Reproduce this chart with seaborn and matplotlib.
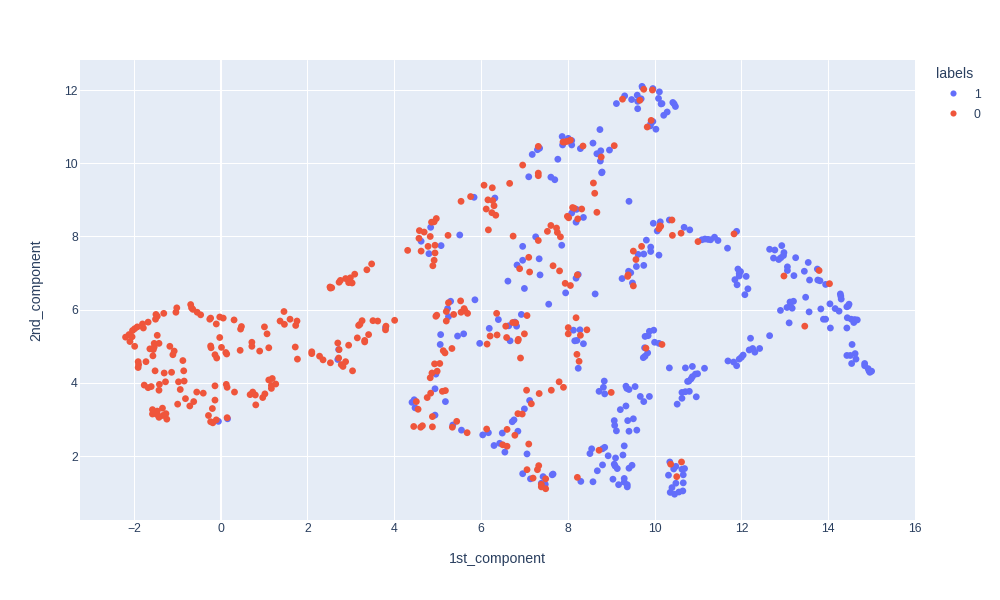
import matplotlib
matplotlib.use("Agg")
import matplotlib.pyplot as plt
import pandas as pd
import seaborn as sns

# label 1
x_one = [-0.05, 0.16, 2.72, 2.70, 3.80,
         7.10, 7.61, 7.70, 8.78, 5.84, 6.32, 9.41, 8.09, 8.20, 8.36, 8.19, 4.84, 4.62, 5.08, 4.80,
         5.51, 7.26, 6.96, 7.86, 6.96, 7.34, 6.83, 7.36, 6.62, 7.00, 8.24, 8.19, 7.95, 8.63, 7.56,
         9.97, 10.13, 10.06, 10.34, 10.68, 10.81, 9.81, 9.91, 9.91, 9.62, 9.75, 10.10, 9.58, 9.75,
         9.40, 9.45, 9.25, 9.49,
         5.30, 5.86, 5.23, 5.25, 5.07, 5.46, 5.60, 5.06, 5.97, 6.19, 6.40, 6.64, 6.67, 6.82, 6.78, 6.93,
         8.13, 8.28, 8.16, 8.21, 8.36, 9.88, 9.98, 9.85, 9.78, 10.00, 10.10, 9.77, 9.84, 9.78, 9.74,
         4.96, 4.94, 5.18, 4.46, 4.41, 4.48, 4.94, 5.35, 5.55, 6.04, 6.17, 6.49, 6.85, 6.30, 6.43, 6.55,
         7.06, 7.12, 7.00, 6.76, 6.72, 6.96, 7.14, 7.43, 7.66, 7.64, 7.39, 7.48, 8.30, 8.58,
         8.24, 8.84, 8.82, 8.72, 8.85, 9.34, 9.36, 9.41, 9.55, 9.67, 9.75, 9.88, 9.34, 9.21, 9.51, 9.38,
         9.07, 9.08, 9.12, 9.41, 9.59, 9.30, 8.85, 8.80, 8.55, 8.51, 8.93, 9.10, 9.27, 9.07, 9.09, 9.14,
         8.80, 8.68, 9.41, 9.48, 9.04, 9.30, 9.30, 9.17, 9.37, 9.37,
         10.34, 10.71, 10.87, 11.15, 10.99, 10.94, 10.87, 10.84, 10.79, 10.76, 10.80, 10.71, 10.63, 10.96,
         10.63, 10.52, 10.35, 10.49, 10.44, 10.63, 10.69, 10.66, 10.32, 10.49, 10.66, 10.40, 10.36, 10.46,
         10.56, 10.65,
         9.71, 9.72, 9.96, 10.11, 9.31, 9.60, 9.47, 9.12, 9.69, 9.61, 10.09, 10.17, 10.15, 10.42, 10.45,
         10.48, 10.29, 10.21, 9.61, 9.96, 9.91, 9.90, 10.03, 8.74, 7.87, 8.01, 8.09, 7.88, 8.09, 8.58,
         8.29, 8.76, 8.67, 8.96, 8.75, 8.79, 7.35, 7.30, 7.18, 7.77,
         11.09, 11.16, 11.23, 11.29, 11.38, 11.46, 11.68, 11.89, 11.92, 11.98, 11.95, 11.95, 12.11, 11.85,
         11.90, 12.15, 12.08, 12.65, 12.77, 12.93, 12.98, 12.97, 12.91, 12.86, 12.74, 13.25, 13.54, 13.06,
         13.06, 13.45, 13.75, 13.21, 13.57, 13.76, 13.81, 13.94, 14.28, 14.29, 14.30, 14.48, 14.46, 14.43,
         14.04, 14.16, 14.25, 13.83, 13.56, 13.48, 13.20, 13.12, 13.05, 13.13, 13.17, 12.90, 13.10, 13.89,
         13.94, 14.05, 14.43, 14.44, 14.53, 14.59, 14.61, 14.67, 12.65, 12.21, 12.18, 12.26, 12.31, 12.42,
         12.04, 12.00, 11.95, 11.89, 11.82, 11.69, 14.55, 14.43, 14.51, 14.62, 14.64, 14.54, 14.84, 14.84,
         14.92, 14.94, 15.00, 14.96]
y_one = [2.95, 3.02, 4.91, 4.64, 5.51,
         9.63, 9.62, 9.55, 9.74, 9.07, 9.05, 8.96, 8.64, 8.74, 8.52, 8.39, 8.25, 7.87, 7.75, 7.53,
         8.04, 7.99, 7.73, 7.76, 7.35, 7.39, 7.22, 6.95, 6.78, 6.58, 6.96, 6.86, 6.46, 6.43, 6.15,
         8.36, 8.40, 8.15, 8.45, 8.25, 8.18, 7.90, 7.71, 7.59, 7.51, 7.52, 7.49, 7.18, 7.21,
         7.05, 7.01, 6.85, 6.73,
         6.23, 6.27, 6.03, 5.81, 5.32, 5.28, 5.34, 5.05, 5.08, 5.49, 5.73, 5.56, 5.15, 5.55, 5.66, 5.87,
         5.44, 5.45, 5.15, 5.16, 5.07, 5.41, 5.44, 5.29, 5.27, 5.11, 5.08, 4.96, 4.82, 4.73, 4.69,
         4.24, 3.84, 3.49, 3.54, 3.47, 3.32, 3.12, 2.85, 2.71, 2.58, 2.64, 2.63, 2.68, 2.29, 2.35, 2.11,
         2.06, 3.52, 3.29, 2.99, 2.94, 1.52, 1.38, 1.44, 1.51, 1.49, 1.26, 1.23, 1.31, 1.30,
         4.40, 4.05, 3.88, 3.77, 3.70, 3.91, 3.85, 3.82, 3.90, 3.63, 3.49, 3.63, 3.37, 3.27, 3.02, 2.97,
         2.97, 2.84, 2.69, 2.68, 2.71, 2.28, 2.24, 2.20, 2.20, 2.07, 2.01, 1.95, 2.03, 1.78, 1.73, 1.66,
         1.76, 1.60, 1.67, 1.75, 1.37, 1.39, 1.29, 1.22, 1.22, 1.16,
         4.41, 4.41, 4.45, 4.40, 4.25, 4.24, 4.17, 4.11, 4.05, 4.04, 3.77, 3.76, 3.74, 3.62,
         3.58, 3.42, 1.84, 1.72, 1.65, 1.64, 1.66, 1.49, 1.48, 1.26, 1.27, 1.14, 1.01, 0.96,
         1.02, 1.05,
         12.10, 12.07, 12.04, 11.95, 11.84, 11.86, 11.74, 11.63, 11.76, 11.69, 11.77, 11.63, 11.62, 11.66, 11.62,
         11.55, 11.40, 11.31, 11.49, 11.14, 11.08, 11.02, 10.93, 10.92, 10.73, 10.68, 10.62, 10.50, 10.50, 10.55,
         10.40, 10.34, 10.26, 10.36, 10.06, 9.76, 10.41, 10.37, 10.24, 10.11,
         7.91, 7.93, 7.92, 7.91, 7.98, 7.89, 7.68, 8.14, 7.11, 7.04, 6.99, 6.92, 6.91, 6.82,
         6.68, 6.57, 6.41, 7.65, 7.63, 7.75, 7.56, 7.48, 7.42, 7.37, 7.41, 7.42, 7.29, 7.17,
         7.07, 7.05, 7.11, 6.93, 6.81, 6.81, 6.79, 6.69, 6.43, 6.37, 6.29, 6.15, 6.10, 6.08,
         6.16, 6.03, 5.96, 6.02, 5.94, 6.34, 6.23, 6.21, 6.06, 6.10, 6.04, 5.98, 5.64, 5.74,
         5.74, 5.50, 5.50, 5.78, 5.74, 5.65, 5.73, 5.72, 5.29, 5.22, 4.90, 4.94, 4.84, 4.94,
         4.76, 4.70, 4.65, 4.47, 4.57, 4.60, 5.05, 4.75, 4.75, 4.80, 4.65, 4.53, 4.53, 4.47,
         4.39, 4.33, 4.32, 4.29]

# label 0
x_zero = [3.48, 3.37, 3.09, 2.99, 2.88, 2.76, 2.73, 2.95, 3.03, 2.52, 2.56, 2.53,
          -2.19, -2.11, -2.03, -1.98, -1.92, -2.04, -2.09, -1.98, -1.80, -1.78, -1.67, -1.50, -1.49, -1.46,
          -1.31, -1.03, -1.01, -0.69, -0.67, -0.64, -0.54, -0.46, -0.25, -0.23, -0.10, -0.02, 0.06, 0.31,
          0.48, 0.46, -0.02, -0.23, -0.22, 0.02, -0.13, -0.09, 0.12, 0.14, 0.45, 0.72, 0.72, 0.90, 1.11,
          1.01, 1.07, 1.46, 1.37, 1.47, 1.60, 1.76, 1.73, 1.72, 1.77, 2.10, 2.10, 2.28, 2.36, 2.53, 2.70,
          2.73, 2.72, 2.78, 2.82, 2.88, 3.04, 2.95, 3.15, 3.32, 3.32, 3.41, 3.18, 3.21, 3.26, 3.51, 3.62,
          3.81, 3.80, 4.01,
          -1.46, -1.53, -1.42, -1.63, -1.55, -1.53, -1.56, -1.17, -1.07, -1.10, -0.87, -1.90, -1.72, -1.89,
          -1.90, -1.51, -1.30, -1.13, -0.85, -0.97, -0.84, -1.76, -1.67, -1.60, -1.41, -1.27, -1.42, -0.93,
          -0.55, -0.40, -0.13, 0.13, 0.15, 0.32, -0.13, -0.81, -0.62, -0.71, -0.99, -0.19, -1.57, -1.34,
          -1.46, -1.57, -1.47, -1.26, -1.42, -1.33, -1.24, -0.28, -0.23, -0.18, -0.10, 0.15, 0.68, 0.74,
          0.80, 0.97, 1.02, 0.81, 1.11, 1.19, 1.27, 1.17, 1.17,
          7.32, 7.32, 6.66, 6.07, 6.26, 5.76, 5.54, 6.16, 6.27, 6.30, 6.12, 6.25, 6.34, 6.17, 4.97, 4.92,
          4.86, 4.58, 4.69, 4.57, 4.83, 5.24, 4.94, 4.78, 4.31, 4.62, 4.94, 4.92, 4.89, 6.74, 7.32, 7.61,
          7.74, 7.53, 7.76, 7.83, 7.10, 6.89, 7.12, 7.66, 7.81, 7.94, 8.06, 8.22, 8.11, 8.15, 8.32, 7.99,
          8.02, 8.23, 8.67, 8.59, 8.62,
          10.12, 10.14, 10.10, 10.40, 10.41, 10.61, 11.00, 9.70, 9.51, 9.57, 9.39, 9.38, 9.51,
          5.53, 5.25, 5.61, 5.54, 5.63, 5.69, 5.37, 5.20, 4.98, 4.96, 5.20, 5.33, 5.13, 5.17, 6.14, 6.21,
          6.36, 6.37, 6.57, 6.59, 6.86, 6.85, 7.00, 6.73, 6.80, 7.06, 6.91, 8.19, 8.01, 8.01, 8.44, 8.29,
          8.21, 8.26, 10.17, 9.80,
          4.93, 5.05, 4.87, 4.99, 4.83, 5.18, 5.11, 4.84, 4.76, 4.51, 4.55, 4.88, 4.45, 4.61, 4.65, 4.88,
          5.44, 5.34, 5.68, 6.13, 6.60, 6.78, 6.50, 6.60, 7.10, 7.80, 7.90, 7.62, 7.34, 7.05, 7.16, 6.85,
          6.95, 7.33, 7.30, 7.06, 7.20, 7.49, 7.39, 7.39, 7.49, 8.22, 9.00, 8.72, 10.62, 10.37, 10.51,
          9.75, 9.95, 9.26, 9.66, 9.92, 9.83, 7.89, 7.93, 7.99, 8.06, 8.35, 9.07, 8.77, 7.32, 6.96,
          11.83, 13.79, 12.98, 14.03, 13.46]
y_zero = [7.25, 7.09, 6.97, 6.87, 6.85, 6.80, 6.75, 6.74, 6.73, 6.62, 6.60, 6.59,
          5.25, 5.32, 5.43, 5.48, 5.53, 5.26, 5.13, 5.00, 5.61, 5.50, 5.66, 5.74, 5.87, 5.82,
          5.90, 5.93, 6.05, 6.14, 6.05, 6.01, 5.93, 5.86, 5.74, 5.77, 5.61, 5.80, 5.77, 5.72,
          5.54, 5.47, 5.24, 5.01, 4.96, 4.97, 4.77, 4.68, 4.83, 4.79, 4.89, 5.11, 5.00, 4.87, 4.96,
          5.53, 5.34, 5.95, 5.69, 5.60, 5.74, 5.69, 5.57, 4.98, 4.65, 4.85, 4.80, 4.73, 4.63, 4.55, 5.09,
          4.91, 4.68, 4.50, 4.45, 4.58, 4.33, 5.03, 5.23, 5.16, 5.12, 5.32, 5.57, 5.60, 5.70, 5.70, 5.69,
          5.55, 5.45, 5.71,
          5.30, 5.08, 5.08, 4.93, 4.91, 4.98, 4.74, 5.00, 4.87, 4.77, 4.61, 4.58, 4.58, 4.50,
          4.42, 4.33, 4.27, 4.29, 4.33, 4.03, 4.05, 3.94, 3.87, 3.90, 3.96, 4.03, 3.80, 3.82,
          3.75, 3.72, 3.92, 3.96, 3.88, 3.75, 3.53, 3.57, 3.49, 3.37, 3.42, 3.30, 3.27, 3.31,
          3.23, 3.15, 3.14, 3.16, 3.06, 3.11, 3.01, 3.11, 2.94, 2.91, 2.99, 3.05, 3.68, 3.75,
          3.67, 3.60, 3.70, 3.40, 4.08, 4.12, 3.97, 3.93, 3.85,
          9.73, 9.66, 9.45, 9.40, 9.33, 9.09, 8.96, 9.00, 8.98, 8.84, 8.75, 8.65, 8.58, 8.18, 8.49, 8.40,
          8.39, 8.16, 8.12, 7.95, 8.00, 8.03, 7.76, 7.73, 7.62, 7.60, 7.55, 7.35, 7.20, 8.01, 7.89, 8.30,
          8.23, 8.14, 8.11, 7.99, 7.43, 7.12, 7.03, 7.20, 7.06, 6.72, 6.66, 6.95, 8.79, 8.77, 8.75, 8.55,
          8.51, 8.48, 8.66, 9.46, 9.18,
          8.29, 8.28, 8.21, 8.45, 8.03, 8.09, 7.86, 7.73, 7.60, 7.37, 6.95, 6.91, 6.65,
          6.24, 6.19, 6.03, 5.93, 5.97, 5.90, 5.87, 5.95, 5.85, 5.82, 5.69, 4.94, 4.88, 4.82, 5.06, 5.28,
          5.90, 5.31, 5.55, 5.24, 5.19, 5.15, 5.34, 5.65, 5.64, 5.84, 4.68, 5.78, 5.51, 5.34, 5.45, 5.30,
          4.78, 4.59, 5.05, 4.95,
          4.52, 4.53, 4.27, 4.32, 4.14, 3.79, 3.77, 3.72, 3.60, 3.49, 3.28, 3.08, 2.81, 2.79, 2.83, 2.80,
          2.95, 2.79, 2.64, 2.74, 2.73, 2.57, 2.31, 2.27, 2.33, 4.03, 3.88, 3.80, 3.71, 3.80, 3.43, 3.16,
          3.15, 1.74, 1.63, 1.63, 1.40, 1.38, 1.23, 1.16, 1.11, 1.42, 3.74, 2.16, 1.84, 1.78, 1.44,
          12.02, 12.00, 11.75, 11.72, 11.17, 10.99, 10.58, 10.58, 10.60, 10.63, 10.47, 10.48, 10.17, 10.46, 9.95,
          8.07, 7.07, 6.92, 6.71, 5.55]

tick_x = [-2, 0, 2, 4, 6, 8, 10, 12, 14, 16]
tick_y = [2, 4, 6, 8, 10, 12]
label_order = ["1", "0"]
palette = {"1": "#636EFA", "0": "#EF553B"}
ink = "#2a3f5f"

df = pd.DataFrame({
    "1st_component": x_one + x_zero,
    "2nd_component": y_one + y_zero,
    "labels": ["1"] * len(x_one) + ["0"] * len(x_zero),
})

sns.set_theme(style="darkgrid", rc={
    "axes.facecolor": "#E5ECF6",
    "grid.color": "white",
    "grid.linewidth": 0.75,
})
plt.rcParams["font.family"] = ["Liberation Sans", "DejaVu Sans"]

fig = plt.figure(figsize=(10, 6), dpi=100)
ax = fig.add_axes([0.08, 0.133, 0.835, 0.767])
sns.scatterplot(data=df, x="1st_component", y="2nd_component", hue="labels",
                hue_order=label_order, palette=palette, s=24, linewidth=0,
                alpha=1, ax=ax, zorder=3)

ax.set_xlim(-3.24, 16.0)
ax.set_ylim(0.25, 12.82)
ax.set_xticks(tick_x)
ax.set_yticks(tick_y)
ax.set_xticklabels([str(t).replace("-", "\u2212") for t in tick_x])
ax.tick_params(axis="x", length=0, labelsize=8.8, labelcolor=ink, pad=2)
ax.tick_params(axis="y", length=0, labelsize=8.8, labelcolor=ink, pad=1.5)
ax.axvline(0, color="white", lw=1.5, zorder=1)
ax.set_xlabel("1st_component", fontsize=10.2, color=ink, labelpad=12)
ax.set_ylabel("2nd_component", fontsize=10.2, color=ink, labelpad=15)
sns.despine(ax=ax, left=True, bottom=True)

leg = ax.legend(title="labels", loc="upper left", bbox_to_anchor=(1.019, 0.996),
                frameon=False, fontsize=8.8, title_fontsize=10.2, labelcolor=ink,
                borderaxespad=0, handlelength=2.8, handletextpad=0.3, labelspacing=0.65,
                markerscale=0.9, alignment="left")
leg.get_title().set_color(ink)

fig.savefig("out.png", dpi=100, facecolor="white")
